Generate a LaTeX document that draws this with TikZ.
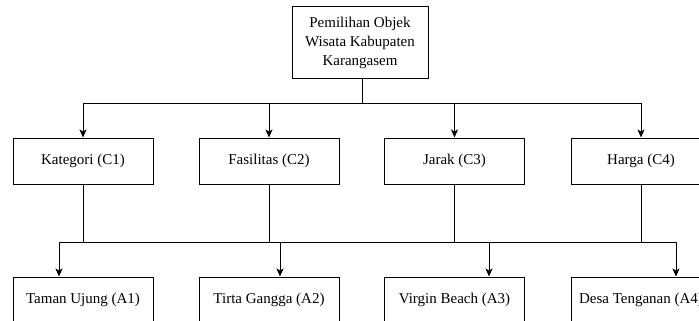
\documentclass[tikz,border=0pt]{standalone}
\usepackage{fontspec}
\setmainfont{Liberation Serif}
\usetikzlibrary{arrows.meta}
\begin{document}
\begin{tikzpicture}[x=1pt,y=1pt,
  box/.style={draw, line width=1pt, minimum width=140pt, minimum height=46pt, inner sep=0pt, font=\fontsize{15}{19}\selectfont, align=center},
  conn/.style={line width=1pt},
  arr/.style={line width=1pt, -{Stealth[length=8pt,width=7pt,inset=2pt]}}]
\clip (0,0) rectangle (699,-321);
\node[box, minimum width=136pt, minimum height=72pt] (top) at (360,-43) {Pemilihan Objek\\Wisata Kabupaten\\Karangasem};
\node[box] (C1) at (83,-161) {Kategori (C1)};
\node[box] (C2) at (269,-161) {Fasilitas (C2)};
\node[box] (C3) at (454.5,-161) {Jarak (C3)};
\node[box] (C4) at (641,-161) {Harga (C4)};
\node[box] (A1) at (83,-300) {Taman Ujung (A1)};
\node[box] (A2) at (269,-300) {Tirta Gangga (A2)};
\node[box] (A3) at (454.5,-300) {Virgin Beach (A3)};
\node[box] (A4) at (641,-300) {Desa Tenganan (A4)};
\coordinate (t) at (362,-103);
\coordinate (a1) at (59,-242);
\coordinate (a2) at (280,-242);
\coordinate (a3) at (489,-242);
\coordinate (a4) at (676,-242);
\draw[conn] (top.south -| t) -- (t);
\draw[arr] (t) -| (C1.north);
\draw[arr] (t) -| (C2.north);
\draw[arr] (t) -| (C3.north);
\draw[arr] (t) -| (C4.north);
\draw[conn] (a1) -- (a4);
\draw[conn] (C1.south) -- (C1.south |- a1);
\draw[conn] (C2.south) -- (C2.south |- a1);
\draw[conn] (C3.south) -- (C3.south |- a1);
\draw[conn] (C4.south) -- (C4.south |- a1);
\draw[arr] (a1) -- (a1 |- A1.north);
\draw[arr] (a2) -- (a2 |- A2.north);
\draw[arr] (a3) -- (a3 |- A3.north);
\draw[arr] (a4) -- (a4 |- A4.north);
\end{tikzpicture}
\end{document}
